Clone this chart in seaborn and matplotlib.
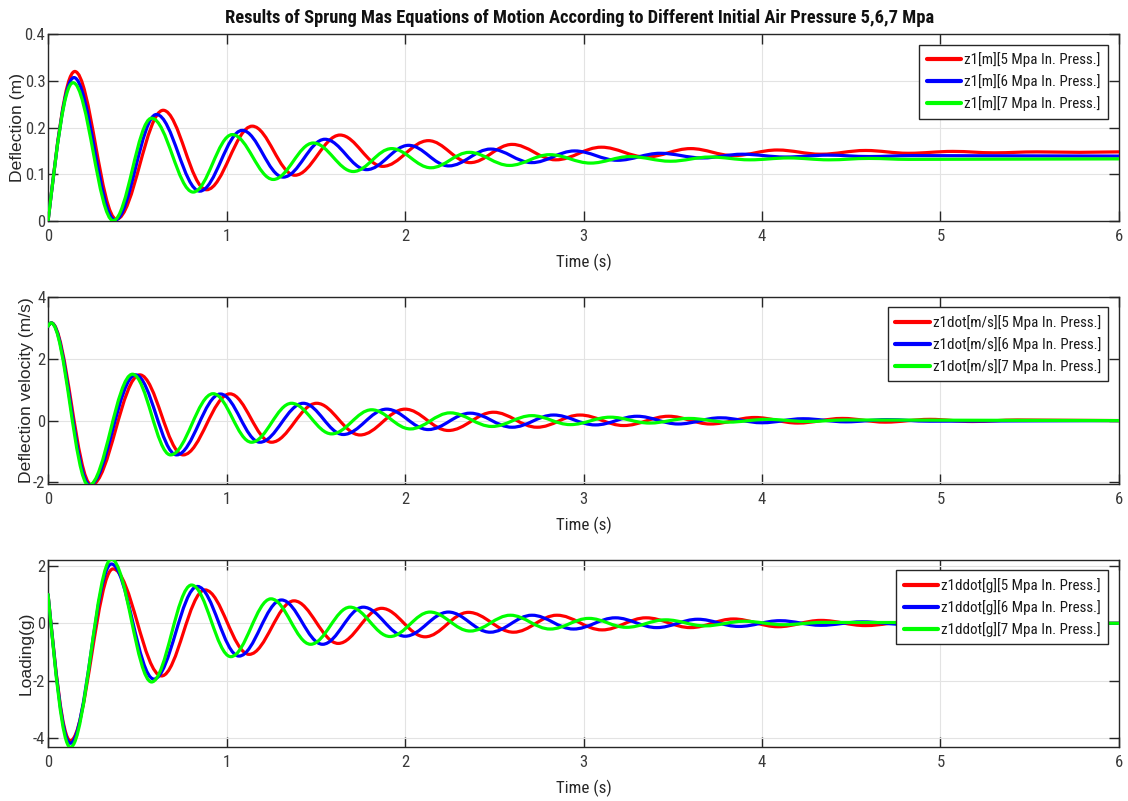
import matplotlib
matplotlib.use("Agg")
import matplotlib.pyplot as plt
from matplotlib import font_manager
from matplotlib.path import Path
from matplotlib.patches import PathPatch
from matplotlib.lines import Line2D
import seaborn as sns

# ---- turning points (time [s], value) of each response ----
# deflection z1 [m]
z1_5_t = [0, 0.150, 0.383, 0.645, 0.888, 1.144, 1.383, 1.636, 1.875, 2.131, 2.365, 2.600, 2.845,
          3.100, 3.350, 3.600, 3.840, 4.085, 4.330, 4.580, 4.820, 5.070, 5.300, 5.540, 5.780, 6.0]
z1_5_v = [0, 0.320, 0.004, 0.237, 0.067, 0.203, 0.098, 0.184, 0.117, 0.172, 0.125, 0.164, 0.131,
          0.158, 0.137, 0.155, 0.140, 0.152, 0.143, 0.151, 0.145, 0.149, 0.146, 0.148, 0.147, 0.148]
z1_6_t = [0, 0.145, 0.375, 0.607, 0.850, 1.088, 1.318, 1.551, 1.785, 2.020, 2.245, 2.480, 2.710,
          2.950, 3.190, 3.430, 3.665, 3.890, 4.130, 4.370, 4.600, 4.840, 6.0]
z1_6_v = [0, 0.307, 0.002, 0.228, 0.064, 0.194, 0.094, 0.175, 0.110, 0.162, 0.118, 0.154, 0.125,
          0.150, 0.130, 0.145, 0.135, 0.143, 0.137, 0.141, 0.138, 0.140, 0.139]
z1_7_t = [0, 0.140, 0.365, 0.580, 0.813, 1.032, 1.262, 1.486, 1.710, 1.925, 2.145, 2.360, 2.585,
          2.810, 3.040, 3.260, 3.487, 3.710, 3.930, 4.150, 4.375, 4.600, 4.820, 6.0]
z1_7_v = [0, 0.296, 0.001, 0.220, 0.062, 0.185, 0.089, 0.167, 0.106, 0.155, 0.114, 0.147, 0.119,
          0.142, 0.124, 0.138, 0.128, 0.137, 0.131, 0.135, 0.131, 0.134, 0.132, 0.133]

# deflection velocity z1dot [m/s]
v_5_t = [0, 0.019, 0.243, 0.514, 0.757, 1.019, 1.252, 1.505, 1.748, 2.000, 2.243, 2.496, 2.740,
         2.980, 3.225, 3.477, 3.710, 3.960, 4.200, 4.450, 4.690, 4.940, 5.180, 5.430, 6.0]
v_5_v = [3.05, 3.16, -2.08, 1.48, -1.11, 0.865, -0.70, 0.56, -0.465, 0.37, -0.32, 0.27, -0.215,
         0.18, -0.16, 0.14, -0.11, 0.10, -0.08, 0.07, -0.05, 0.04, -0.03, 0.02, 0.0]
v_6_t = [0, 0.018, 0.234, 0.490, 0.720, 0.966, 1.187, 1.430, 1.654, 1.897, 2.130, 2.365, 2.600,
         2.832, 3.066, 3.300, 3.530, 3.767, 4.000, 4.230, 4.470, 4.700, 4.940, 6.0]
v_6_v = [3.05, 3.16, -2.08, 1.48, -1.11, 0.86, -0.70, 0.56, -0.45, 0.37, -0.29, 0.24, -0.215,
         0.18, -0.14, 0.14, -0.11, 0.09, -0.07, 0.06, -0.04, 0.03, -0.02, 0.0]
v_7_t = [0, 0.017, 0.228, 0.473, 0.686, 0.925, 1.140, 1.364, 1.589, 1.813, 2.030, 2.253, 2.487,
         2.710, 2.926, 3.150, 3.370, 3.590, 3.810, 4.030, 4.250, 4.470, 6.0]
v_7_v = [3.05, 3.16, -2.10, 1.50, -1.11, 0.87, -0.70, 0.56, -0.43, 0.35, -0.27, 0.25, -0.19,
         0.16, -0.13, 0.11, -0.08, 0.07, -0.05, 0.04, -0.03, 0.02, 0.0]

# loading z1ddot [g]
a_5_t = [0, 0.125, 0.364, 0.636, 0.879, 1.127, 1.378, 1.626, 1.869, 2.112, 2.355, 2.608, 2.851,
         3.104, 3.350, 3.600, 3.840, 4.090, 4.330, 4.580, 4.830, 5.080, 6.0]
a_5_v = [1.0, -4.08, 1.89, -1.83, 1.16, -1.08, 0.78, -0.70, 0.52, -0.47, 0.38, -0.31, 0.28,
         -0.23, 0.19, -0.15, 0.15, -0.12, 0.10, -0.08, 0.06, -0.04, 0.0]
a_6_t = [0, 0.125, 0.355, 0.593, 0.837, 1.070, 1.308, 1.538, 1.766, 2.000, 2.243, 2.477, 2.711,
         2.944, 3.178, 3.410, 3.640, 3.870, 4.100, 4.330, 4.560, 4.800, 6.0]
a_6_v = [1.0, -4.17, 2.06, -1.94, 1.28, -1.14, 0.81, -0.73, 0.56, -0.45, 0.39, -0.31, 0.28,
         -0.20, 0.19, -0.15, 0.14, -0.11, 0.09, -0.07, 0.05, -0.04, 0.0]
a_7_t = [0, 0.125, 0.355, 0.580, 0.804, 1.024, 1.249, 1.471, 1.692, 1.916, 2.140, 2.365, 2.590,
         2.813, 3.030, 3.240, 3.460, 3.680, 3.900, 4.120, 4.340, 6.0]
a_7_v = [1.0, -4.31, 2.23, -2.04, 1.33, -1.16, 0.85, -0.73, 0.56, -0.46, 0.39, -0.27, 0.28,
         -0.20, 0.17, -0.14, 0.12, -0.09, 0.07, -0.05, 0.03, 0.0]

pressures = ["5", "6", "7"]
colors = ["#ff0000", "#0000ff", "#00ff00"]
x_ticks = [0, 1, 2, 3, 4, 5, 6]
title = "Results of Sprung Mas Equations of Motion According to Different Initial Air Pressure 5,6,7 Mpa"

sns.set_theme(style="whitegrid")

# prefer a condensed sans face; otherwise shrink the regular one to similar widths
available = {f.name for f in font_manager.fontManager.ttflist}
condensed = [n for n in ("Liberation Sans Narrow", "Arial Narrow", "Roboto Condensed",
                         "Open Sans Condensed") if n in available]
if condensed:
    base_font, fs = condensed[0], 1.0
else:
    base_font, fs = "Liberation Sans", 0.8
plt.rcParams["font.family"] = [base_font, "DejaVu Sans"]
plt.rcParams["axes.edgecolor"] = "#262626"
plt.rcParams["grid.color"] = "#e3e3e3"
plt.rcParams["grid.linewidth"] = 0.8
ylabel_font = ["Liberation Sans", "DejaVu Sans"]

K = 0.364  # control-point offset that gives a cosine-like swing between turning points


def trace(ax, t, v, color, lw=2.3):
    """Draw a smooth curve through turning points with horizontal tangents."""
    verts = [(t[0], v[0])]
    codes = [Path.MOVETO]
    for i in range(len(t) - 1):
        t0, v0, t1, v1 = t[i], v[i], t[i + 1], v[i + 1]
        dt = t1 - t0
        if i == 0:
            c1 = (t0 + dt / 3.0, v0 + (v1 - v0) / 2.0)
        else:
            c1 = (t0 + K * dt, v0)
        c2 = (t1 - K * dt, v1)
        verts += [c1, c2, (t1, v1)]
        codes += [Path.CURVE4] * 3
    ax.add_patch(PathPatch(Path(verts, codes), fill=False, edgecolor=color, lw=lw,
                           capstyle="round", joinstyle="round", zorder=3))


fig = plt.figure(figsize=(11.28, 8.01), dpi=100)
left, width = 0.0426, 0.9494
positions = [0.724, 0.3958, 0.0674]
height = 0.2335

panels = [
    ("Deflection (m)", "z1[m]", [(z1_5_t, z1_5_v), (z1_6_t, z1_6_v), (z1_7_t, z1_7_v)],
     (0, 0.4), [0, 0.1, 0.2, 0.3, 0.4], ["0", "0.1", "0.2", "0.3", "0.4"]),
    ("Deflection velocity (m/s)", "z1dot[m/s]", [(v_5_t, v_5_v), (v_6_t, v_6_v), (v_7_t, v_7_v)],
     (-2.05, 4.0), [-2, 0, 2, 4], ["-2", "0", "2", "4"]),
    ("Loading(g)", "z1ddot[g]", [(a_5_t, a_5_v), (a_6_t, a_6_v), (a_7_t, a_7_v)],
     (-4.3, 2.2), [-4, -2, 0, 2], ["-4", "-2", "0", "2"]),
]

for (ylabel, prefix, series, ylim, yticks, yticklabels), bottom in zip(panels, positions):
    ax = fig.add_axes([left, bottom, width, height])
    ax.set_facecolor("white")
    for (t, v), c in zip(series, colors):
        trace(ax, t, v, c)
    ax.set_xlim(0, 6)
    ax.set_ylim(*ylim)
    ax.set_xticks(x_ticks)
    ax.set_xticklabels([str(x) for x in x_ticks])
    ax.set_yticks(yticks)
    ax.set_yticklabels(yticklabels)
    ax.grid(True, zorder=0)
    ax.tick_params(axis="both", which="both", direction="in", length=7, width=1.0,
                   top=True, right=True, bottom=True, left=True,
                   labelsize=12.0 * fs, labelcolor="#3a3a3a", color="#262626")
    ax.tick_params(axis="x", pad=5.5)
    ax.tick_params(axis="y", pad=2)
    for s in ax.spines.values():
        s.set_linewidth(1.0)
        s.set_color("#262626")
    ax.set_xlabel("Time (s)", fontsize=12.2 * fs, color="#262626", labelpad=7)
    ax.set_ylabel(ylabel, fontsize=12.6, family=ylabel_font, color="#262626", labelpad=-0.5)

    handles = [Line2D([], [], color=c, lw=3) for c in colors]
    labels = [f"{prefix}[{p} Mpa In. Press.]" for p in pressures]
    leg = ax.legend(handles, labels, loc="upper right", fontsize=10.8 * fs, frameon=True,
                    fancybox=False, framealpha=1.0, edgecolor="#262626",
                    handlelength=2.3, handletextpad=0.2, borderpad=0.5,
                    labelspacing=0.47, borderaxespad=0.7)
    leg.get_frame().set_linewidth(1.0)
    for txt in leg.get_texts():
        txt.set_color("#1a1a1a")

fig.text(0.514, 0.9775, title, ha="center", va="center", fontsize=13.3 * fs,
         fontweight="bold", color="#111111")

fig.savefig("out.png", dpi=100, facecolor="white")
